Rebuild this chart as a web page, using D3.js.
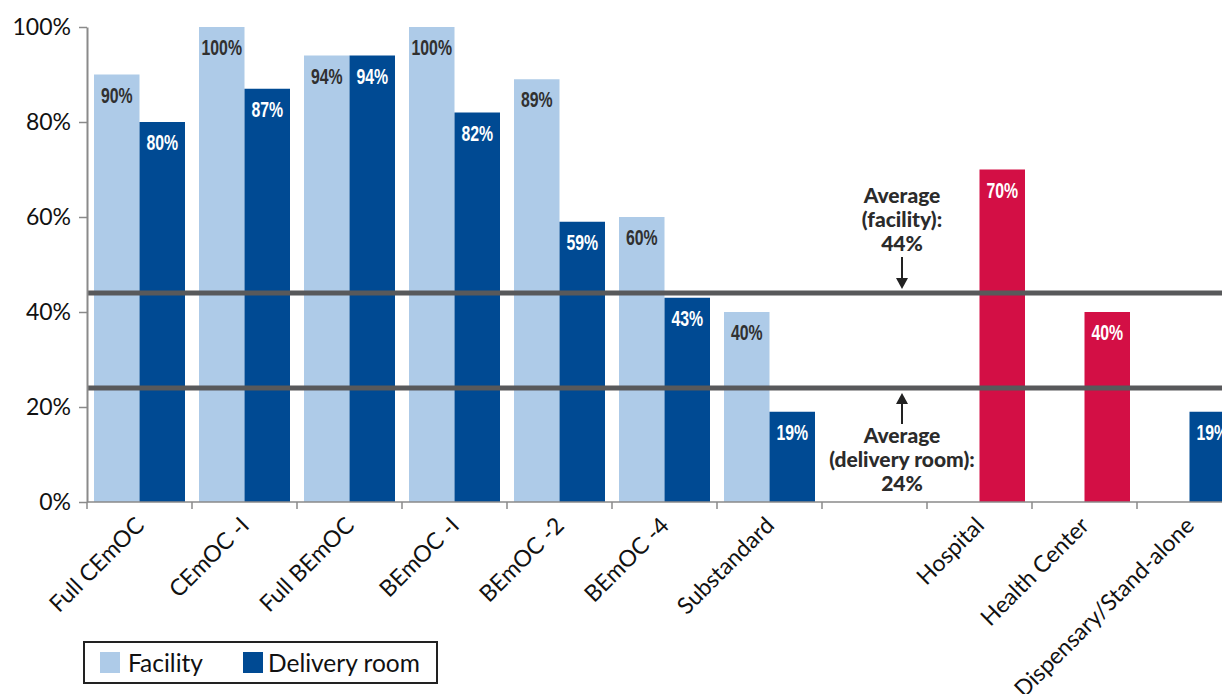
<!DOCTYPE html>
<html>
<head>
<meta charset="utf-8">
<script src="https://cdn.jsdelivr.net/npm/d3@7"></script>
<style>
  html, body { margin: 0; padding: 0; background: #fff; }
  svg { display: block; }
</style>
</head>
<body>
<svg id="chart" width="1222" height="694"></svg>
<script>
// Categories along the x axis (the empty one is a spacer between the two groups)
const categories = ["Full CEmOC", "CEmOC -I", "Full BEmOC", "BEmOC -I", "BEmOC -2", "BEmOC -4",
  "Substandard", "", "Hospital", "Health Center", "Dispensary/Stand-alone"];
// Facility readiness (%) – null where no bar is drawn
const facilityValues = [90, 100, 94, 100, 89, 60, 40, null, null, null, null];
// Delivery room readiness (%)
const deliveryValues = [80, 87, 94, 82, 59, 43, 19, null, null, null, 19];
// Facility-type values (%), drawn in red in the second slot
const facilityTypeValues = [null, null, null, null, null, null, null, null, 70, 40, null];
const yTicks = [0, 20, 40, 60, 80, 100];
const seriesNames = ["Facility", "Delivery room"];
const averages = [
  { key: "facility", value: 44, lines: ["Average", "(facility):", "44%"] },
  { key: "delivery", value: 24, lines: ["Average", "(delivery room):", "24%"] }
];

const colors = { facility: "#aecbe8", delivery: "#004a93", type: "#d30f45" };

const svg = d3.select("#chart");
const x0 = 87, bandStep = 105;
const x = d3.scaleBand()
  .domain(categories.map((c, i) => i))
  .range([x0, x0 + categories.length * bandStep])
  .paddingInner(14 / 105)
  .paddingOuter(7 / 105);
const xs = d3.scaleBand().domain(seriesNames).range([0, x.bandwidth()]);
const y = d3.scaleLinear().domain([0, 100]).range([502, 27]);

// Bars
const bars = [];
categories.forEach((c, i) => {
  if (facilityValues[i] != null) bars.push({ i, s: "Facility", v: facilityValues[i], fill: colors.facility, text: "#303030" });
  if (deliveryValues[i] != null) bars.push({ i, s: "Delivery room", v: deliveryValues[i], fill: colors.delivery, text: "#fff" });
  if (facilityTypeValues[i] != null) bars.push({ i, s: "Delivery room", v: facilityTypeValues[i], fill: colors.type, text: "#fff" });
});

svg.append("g").selectAll("rect").data(bars).join("rect")
  .attr("x", d => x(d.i) + xs(d.s))
  .attr("y", d => y(d.v))
  .attr("width", xs.bandwidth())
  .attr("height", d => y(0) - y(d.v))
  .attr("fill", d => d.fill);

// Value labels, horizontally condensed
svg.append("g").selectAll("text").data(bars).join("text")
  .attr("transform", d => `translate(${x(d.i) + xs(d.s) + xs.bandwidth() / 2},${y(d.v) + 28}) scale(0.72,1)`)
  .attr("text-anchor", "middle")
  .attr("fill", d => d.text)
  .style("font-family", "'Liberation Sans', Arial, sans-serif")
  .style("font-weight", "bold")
  .style("font-size", "22px")
  .text(d => d.v + "%");

// Average lines
svg.append("g").selectAll("line").data(averages).join("line")
  .attr("x1", 87).attr("x2", 1222)
  .attr("y1", d => y(d.value)).attr("y2", d => y(d.value))
  .attr("stroke", "#58595b")
  .attr("stroke-width", 5);

// Y axis
const yAxis = svg.append("g")
  .attr("transform", "translate(87,0)")
  .call(d3.axisLeft(y).tickValues(yTicks).tickSize(8).tickSizeOuter(0).tickFormat(d => d + "%"));
yAxis.select(".domain").attr("stroke", "#8a8a8a").attr("stroke-width", 2);
yAxis.selectAll(".tick line").attr("stroke", "#8a8a8a").attr("stroke-width", 1.5);
yAxis.selectAll(".tick text")
  .attr("x", -16)
  .attr("fill", "#111")
  .style("font-family", "Lato, 'Open Sans', sans-serif")
  .style("font-size", "23px");

// X axis: ticks sit on the band boundaries
const xAxisG = svg.append("g");
xAxisG.append("line")
  .attr("x1", 87).attr("x2", 1222)
  .attr("y1", y(0)).attr("y2", y(0))
  .attr("stroke", "#8a8a8a").attr("stroke-width", 1.5);
const boundaries = d3.range(categories.length + 1).map(k => x0 + k * bandStep);
xAxisG.selectAll("line.tk").data(boundaries).join("line")
  .attr("class", "tk")
  .attr("x1", d => d).attr("x2", d => d)
  .attr("y1", y(0)).attr("y2", y(0) + 7)
  .attr("stroke", "#8a8a8a").attr("stroke-width", 1.5);
xAxisG.selectAll("text").data(categories.map((c, i) => ({ c, i })).filter(d => d.c)).join("text")
  .attr("transform", d => `translate(${x(d.i) + x.bandwidth() / 2 + 6},${y(0) + 25}) rotate(-45)`)
  .attr("text-anchor", "end")
  .attr("fill", "#111")
  .style("font-family", "Lato, 'Open Sans', sans-serif")
  .style("font-size", "23px")
  .text(d => d.c);

// Average annotations with arrows
const annX = 902;
const arrowHead = (g, tipY, dir) => {
  g.append("path")
    .attr("d", `M${annX - 6},${tipY - dir * 11} L${annX + 6},${tipY - dir * 11} L${annX},${tipY} Z`)
    .attr("fill", "#222");
};
const ann = svg.append("g")
  .style("font-family", "Lato, 'Open Sans', sans-serif")
  .style("font-weight", "900")
  .style("font-size", "21px")
  .attr("fill", "#2b2b2b")
  .attr("text-anchor", "middle");

// facility annotation above its line
const fy = y(averages[0].value);
averages[0].lines.forEach((t, k) => {
  ann.append("text").attr("x", annX).attr("y", fy - 90 + k * 24).text(t);
});
ann.append("line").attr("x1", annX).attr("x2", annX).attr("y1", fy - 36).attr("y2", fy - 12)
  .attr("stroke", "#222").attr("stroke-width", 2);
arrowHead(ann, fy - 4, 1);

// delivery room annotation below its line
const dy = y(averages[1].value);
ann.append("line").attr("x1", annX).attr("x2", annX).attr("y1", dy + 14).attr("y2", dy + 36)
  .attr("stroke", "#222").attr("stroke-width", 2);
arrowHead(ann, dy + 5, -1);
averages[1].lines.forEach((t, k) => {
  ann.append("text").attr("x", annX).attr("y", dy + 55 + k * 24).text(t);
});

// Legend
const legend = svg.append("g");
legend.append("rect")
  .attr("x", 84).attr("y", 642).attr("width", 353).attr("height", 41)
  .attr("fill", "#fff").attr("stroke", "#222").attr("stroke-width", 2);
const legendItems = [
  { name: seriesNames[0], fill: colors.facility, sx: 100, tx: 128 },
  { name: seriesNames[1], fill: colors.delivery, sx: 243, tx: 268 }
];
legend.selectAll("rect.sw").data(legendItems).join("rect")
  .attr("class", "sw")
  .attr("x", d => d.sx).attr("y", 652).attr("width", 20).attr("height", 21)
  .attr("fill", d => d.fill);
legend.selectAll("text").data(legendItems).join("text")
  .attr("x", d => d.tx).attr("y", 672)
  .attr("fill", "#111")
  .style("font-family", "Lato, 'Open Sans', sans-serif")
  .style("font-size", "24.5px")
  .text(d => d.name);
</script>
</body>
</html>
